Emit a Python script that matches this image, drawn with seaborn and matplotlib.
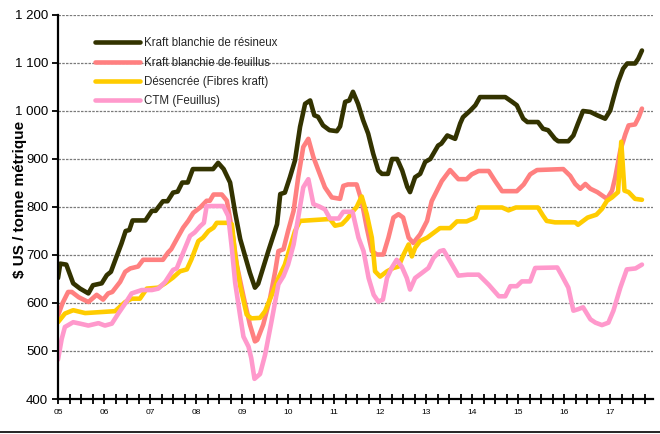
import pandas as pd
import numpy as np
import matplotlib
matplotlib.use("Agg")
import matplotlib.pyplot as plt
from matplotlib.lines import Line2D
import seaborn as sns


# Prix de la pâte, $ US / tonne métrique
series_names = ["Kraft blanchie de résineux", "Kraft blanchie de feuillus",
                "Désencrée (Fibres kraft)", "CTM (Feuillus)"]
series_colors = ["#333300", "#FF8080", "#FFCC00", "#FF99CC"]

resineux_x = [2005.00, 2005.05, 2005.18, 2005.33, 2005.48, 2005.66, 2005.76, 2005.95, 2006.06, 2006.15,
              2006.27, 2006.38, 2006.47, 2006.55, 2006.62, 2006.90, 2007.04, 2007.12, 2007.28, 2007.38,
              2007.50, 2007.60, 2007.70, 2007.82, 2007.93, 2008.37, 2008.48, 2008.60, 2008.74, 2008.85,
              2008.96, 2009.17, 2009.28, 2009.35, 2009.57, 2009.76, 2009.83, 2009.93, 2010.04, 2010.15,
              2010.26, 2010.37, 2010.48, 2010.57, 2010.65, 2010.76, 2010.90, 2011.06, 2011.13, 2011.24,
              2011.33, 2011.41, 2011.52, 2011.63, 2011.74, 2011.85, 2011.96, 2012.04, 2012.17, 2012.26,
              2012.37, 2012.48, 2012.59, 2012.65, 2012.76, 2012.87, 2012.98, 2013.09, 2013.26, 2013.33,
              2013.46, 2013.63, 2013.74, 2013.80, 2013.96, 2014.07, 2014.17, 2014.72, 2014.87, 2014.97,
              2015.11, 2015.20, 2015.43, 2015.54, 2015.65, 2015.80, 2015.87, 2016.09, 2016.20, 2016.30,
              2016.41, 2016.57, 2016.72, 2016.89, 2017.00, 2017.07, 2017.17, 2017.28, 2017.37, 2017.54,
              2017.61, 2017.69]
resineux_y = [652, 682, 680, 641, 630, 620, 637, 641, 658, 665,
              696, 724, 750, 752, 772, 772, 792, 792, 812, 812,
              830, 832, 851, 851, 879, 879, 892, 879, 851, 788,
              733, 663, 632, 640, 708, 764, 827, 830, 862, 897,
              967, 1015, 1022, 991, 988, 970, 960, 958, 968, 1019,
              1022, 1040, 1015, 981, 953, 911, 876, 869, 869, 900,
              900, 876, 842, 831, 862, 869, 894, 900, 928, 932,
              949, 942, 974, 987, 1001, 1012, 1029, 1029, 1019, 1012,
              984, 977, 977, 963, 960, 942, 937, 937, 949, 974,
              1000, 998, 991, 984, 1001, 1026, 1060, 1088, 1099, 1099,
              1109, 1126]

feuillus_x = [2005.00, 2005.10, 2005.22, 2005.30, 2005.45, 2005.66, 2005.84, 2005.98, 2006.09, 2006.18,
              2006.35, 2006.46, 2006.57, 2006.74, 2006.85, 2007.28, 2007.39, 2007.46, 2007.58, 2007.72,
              2007.83, 2007.94, 2008.09, 2008.23, 2008.30, 2008.38, 2008.56, 2008.67, 2008.78, 2008.89,
              2009.03, 2009.17, 2009.28, 2009.33, 2009.46, 2009.61, 2009.72, 2009.79, 2009.90, 2010.00,
              2010.12, 2010.22, 2010.33, 2010.44, 2010.55, 2010.66, 2010.80, 2010.95, 2011.13, 2011.20,
              2011.30, 2011.49, 2011.60, 2011.71, 2011.82, 2011.93, 2012.07, 2012.18, 2012.29, 2012.40,
              2012.50, 2012.62, 2012.72, 2012.87, 2013.02, 2013.12, 2013.23, 2013.34, 2013.52, 2013.70,
              2013.88, 2013.99, 2014.14, 2014.36, 2014.50, 2014.65, 2014.97, 2015.12, 2015.26, 2015.41,
              2015.98, 2016.13, 2016.24, 2016.35, 2016.46, 2016.57, 2016.72, 2016.93, 2017.04, 2017.11,
              2017.22, 2017.33, 2017.40, 2017.54, 2017.62, 2017.69]
feuillus_y = [574, 600, 623, 623, 612, 602, 617, 607, 620, 623,
              644, 665, 672, 676, 690, 690, 705, 712, 733, 757,
              771, 788, 799, 813, 813, 826, 826, 813, 753, 677,
              614, 555, 520, 523, 555, 611, 666, 708, 712, 750,
              792, 862, 925, 942, 904, 876, 841, 820, 817, 844,
              847, 847, 812, 757, 708, 701, 701, 736, 778, 785,
              778, 736, 725, 743, 771, 812, 833, 854, 877, 858,
              858, 868, 875, 875, 854, 833, 833, 847, 868, 877,
              879, 865, 848, 838, 848, 838, 831, 817, 834, 862,
              918, 952, 970, 972, 987, 1005]

desencree_x = [2005.00, 2005.15, 2005.33, 2005.59, 2006.24, 2006.46, 2006.60, 2006.78, 2006.93, 2007.18,
               2007.33, 2007.50, 2007.65, 2007.80, 2007.90, 2008.05, 2008.15, 2008.27, 2008.38, 2008.45,
               2008.67, 2008.78, 2008.85, 2008.96, 2009.10, 2009.20, 2009.39, 2009.50, 2009.65, 2009.79,
               2009.93, 2010.04, 2010.15, 2010.26, 2010.91, 2011.02, 2011.17, 2011.28, 2011.40, 2011.49,
               2011.60, 2011.71, 2011.82, 2011.89, 2012.00, 2012.15, 2012.29, 2012.40, 2012.51, 2012.62,
               2012.69, 2012.76, 2012.87, 2013.02, 2013.16, 2013.30, 2013.52, 2013.67, 2013.88, 2014.07,
               2014.14, 2014.65, 2014.79, 2014.95, 2015.43, 2015.54, 2015.62, 2015.80, 2016.24, 2016.30,
               2016.51, 2016.70, 2016.82, 2016.93, 2017.04, 2017.17, 2017.24, 2017.31, 2017.40, 2017.54,
               2017.69]
desencree_y = [560, 578, 585, 579, 583, 602, 609, 609, 630, 632,
               641, 653, 666, 670, 691, 729, 736, 750, 757, 767,
               767, 764, 698, 635, 576, 568, 569, 583, 618, 652,
               680, 715, 750, 771, 775, 761, 764, 775, 790, 800,
               822, 785, 736, 666, 655, 666, 673, 676, 701, 722,
               697, 715, 729, 736, 746, 756, 756, 770, 770, 778,
               799, 799, 793, 799, 799, 782, 771, 768, 768, 763,
               778, 784, 796, 813, 820, 831, 936, 834, 831, 817,
               815]

ctm_x = [2005.00, 2005.08, 2005.15, 2005.33, 2005.48, 2005.66, 2005.88, 2006.02, 2006.17, 2006.31,
         2006.46, 2006.60, 2006.82, 2007.04, 2007.18, 2007.33, 2007.50, 2007.58, 2007.72, 2007.87,
         2007.97, 2008.09, 2008.17, 2008.23, 2008.59, 2008.70, 2008.78, 2008.85, 2008.96, 2009.03,
         2009.14, 2009.20, 2009.27, 2009.39, 2009.50, 2009.64, 2009.79, 2009.90, 2010.00, 2010.12,
         2010.22, 2010.33, 2010.44, 2010.55, 2010.68, 2010.80, 2010.91, 2011.10, 2011.20, 2011.40,
         2011.53, 2011.64, 2011.75, 2011.86, 2011.96, 2012.06, 2012.15, 2012.25, 2012.36, 2012.47,
         2012.58, 2012.65, 2012.76, 2012.90, 2013.05, 2013.16, 2013.30, 2013.38, 2013.52, 2013.70,
         2013.90, 2014.14, 2014.36, 2014.58, 2014.72, 2014.83, 2014.97, 2015.08, 2015.26, 2015.37,
         2015.85, 2015.95, 2016.09, 2016.20, 2016.30, 2016.41, 2016.57, 2016.68, 2016.82, 2016.96,
         2017.07, 2017.22, 2017.36, 2017.55, 2017.69]
ctm_y = [482, 525, 550, 560, 557, 553, 558, 553, 557, 578,
         599, 620, 627, 627, 630, 644, 669, 672, 705, 740,
         747, 760, 767, 802, 802, 781, 712, 642, 572, 530,
         509, 485, 442, 452, 492, 562, 639, 656, 680, 722,
         778, 841, 858, 806, 801, 795, 776, 776, 790, 790,
         736, 708, 652, 617, 603, 607, 652, 673, 690, 676,
         652, 628, 652, 662, 673, 694, 708, 710, 687, 657,
         659, 659, 638, 614, 614, 635, 635, 645, 645, 673,
         674, 657, 632, 584, 587, 591, 566, 559, 554, 559,
         584, 632, 670, 672, 680]

y_ticks = [400, 500, 600, 700, 800, 900, 1000, 1100, 1200]


def build_frame():
    """Assemble the four series into one long dataframe for seaborn."""
    parts = []
    for name, xs, ys in zip(series_names,
                            [resineux_x, feuillus_x, desencree_x, ctm_x],
                            [resineux_y, feuillus_y, desencree_y, ctm_y]):
        parts.append(pd.DataFrame({"annee": xs, "prix": ys, "serie": name}))
    return pd.concat(parts, ignore_index=True)


def plot_prices(df):
    sns.set_theme(style="white")
    plt.rcParams["font.family"] = ["Liberation Sans", "DejaVu Sans"]

    fig = plt.figure(figsize=(6.6, 4.34), dpi=100)
    ax = fig.add_axes([58 / 660, 1 - 399 / 434, 595 / 660, 384 / 434])

    sns.lineplot(data=df, x="annee", y="prix", hue="serie", hue_order=series_names,
                 palette=series_colors, linewidth=3.3, estimator=None, errorbar=None, ax=ax)

    ax.set_xlim(2005, 2017.93)
    ax.set_ylim(400, 1200)

    # quarterly ticks, year labels only
    quarters = np.arange(2005, 2017.76, 0.25)
    ax.set_xticks(quarters)
    ax.set_xticklabels([f"{int(q) % 100:02d}" if q == int(q) else "" for q in quarters])
    ax.set_yticks(y_ticks)
    ax.set_yticklabels([f"{v:,}".replace(",", " ") for v in y_ticks])

    ax.tick_params(axis="x", direction="inout", length=7, width=1.3, labelsize=6, pad=4,
                   bottom=True, colors="black")
    ax.tick_params(axis="y", direction="out", length=4, width=1.3, labelsize=9.5, pad=3,
                   left=True, colors="black")

    ax.yaxis.grid(True, color="#7a7a7a", linestyle=(0, (2, 1)), linewidth=0.9)
    ax.xaxis.grid(False)
    ax.set_axisbelow(True)

    for side in ["top", "right"]:
        ax.spines[side].set_visible(False)
    for side in ["left", "bottom"]:
        ax.spines[side].set_color("black")
        ax.spines[side].set_linewidth(1.6)

    ax.set_xlabel("")
    ax.set_ylabel(r"\$ US / tonne métrique", fontsize=11, fontweight="bold", color="black")
    ax.yaxis.set_label_coords(-0.052, 0.52)

    handles, labels = ax.get_legend_handles_labels()
    ax.legend(handles, labels, loc="upper left", bbox_to_anchor=(0.062, 0.942),
              frameon=False, fontsize=8.3, handlelength=3.9, handletextpad=0.35,
              labelspacing=0.64, borderpad=0, borderaxespad=0)

    # thin rule along the bottom of the picture
    fig.add_artist(Line2D([0, 1], [0.004, 0.004], transform=fig.transFigure,
                          color="black", linewidth=1.2))

    fig.savefig("out.png", dpi=100)


if __name__ == "__main__":
    plot_prices(build_frame())
